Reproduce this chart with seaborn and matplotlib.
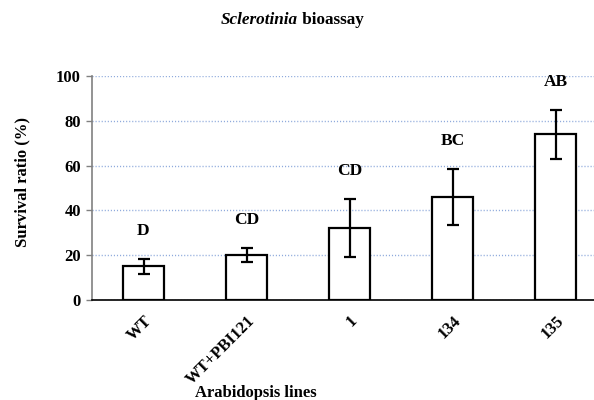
import matplotlib
matplotlib.use("Agg")
import matplotlib.pyplot as plt
import seaborn as sns
import pandas as pd
import numpy as np
from matplotlib.offsetbox import TextArea, HPacker, AnchoredOffsetbox

lines = ["WT", "WT+PBI121", "1", "134", "135"]
survival = [15, 20, 32, 46, 74]
errors = [3.3, 3.0, 13.0, 12.3, 11.0]
letters = ["D", "CD", "CD", "BC", "AB"]
yticks = [0, 20, 40, 60, 80, 100]

sns.set_style("white")
plt.rcParams['font.family'] = ['Liberation Serif', 'DejaVu Serif']
plt.rcParams['text.color'] = 'black'
plt.rcParams['xtick.color'] = 'black'
plt.rcParams['ytick.color'] = 'black'
plt.rcParams['axes.labelcolor'] = 'black'

df = pd.DataFrame({"line": lines, "survival": survival})

W, H = 594, 400
fig = plt.figure(figsize=(W/100, H/100), dpi=100)
ax_left, ax_right = 92, 607
ax_top, ax_bot = 76, 300
ax = fig.add_axes([ax_left/W, 1 - ax_bot/H, (ax_right-ax_left)/W, (ax_bot-ax_top)/H])

sns.barplot(data=df, x="line", y="survival", ax=ax, color="white",
            edgecolor="black", linewidth=1.6, width=0.4, errorbar=None, zorder=3)
ax.errorbar(np.arange(len(lines)), survival, yerr=errors, fmt="none",
            ecolor="black", elinewidth=1.6, capsize=4, capthick=1.6, zorder=4)

for i, (v, e, t) in enumerate(zip(survival, errors, letters)):
    ax.text(i, v + e + 12.5, t, ha="center", va="center", fontsize=12.5,
            fontweight="bold", zorder=5)

ax.set_xlim(-0.5, len(lines) - 0.5)
ax.set_ylim(0, 100)
ax.set_yticks(yticks)
ax.set_yticklabels([str(v) for v in yticks], fontsize=12, fontweight="bold")
ax.yaxis.grid(True, linestyle=(0, (0.8, 1.4)), color="#8FAADC", linewidth=1.0, zorder=0)
ax.xaxis.grid(False)

ax.set_xticks(np.arange(len(lines)))
ax.set_xticklabels(lines, rotation=45, ha="right", rotation_mode="anchor",
                   fontsize=12, fontweight="bold")
ax.tick_params(axis="x", which="major", length=0, pad=9)
ax.set_xticks(np.arange(-0.5, len(lines) + 0.5, 1), minor=True)
ax.tick_params(axis="x", which="minor", length=4, direction="out", color="#808080", width=1)
ax.tick_params(axis="y", which="major", length=4, direction="out", color="#808080",
               width=1, pad=4, left=True)

for s in ["top", "right"]:
    ax.spines[s].set_visible(False)
ax.spines["left"].set_color("#808080")
ax.spines["left"].set_linewidth(1.2)
ax.spines["bottom"].set_color("black")
ax.spines["bottom"].set_linewidth(1.2)
ax.spines["bottom"].set_zorder(6)

ax.set_xlabel("")
ax.set_ylabel("")
fig.text(22/W, 1 - 182/H, "Survival ratio (%)", rotation=90, ha="center", va="center",
         fontsize=12, fontweight="bold")
fig.text(256/W, 1 - 393/H, "Arabidopsis lines", ha="center", va="center",
         fontsize=12, fontweight="bold")

ta1 = TextArea("Sclerotinia", textprops=dict(fontsize=12.3, fontweight="bold",
                                             fontstyle="italic", color="black",
                                             family=['Liberation Serif']))
ta2 = TextArea(" bioassay", textprops=dict(fontsize=12.3, fontweight="bold", color="black",
                                           family=['Liberation Serif']))
box = HPacker(children=[ta1, ta2], align="baseline", pad=0, sep=0)
ab = AnchoredOffsetbox(loc="center", child=box, pad=0, frameon=False,
                       bbox_to_anchor=(292/W, 1 - 20/H), bbox_transform=fig.transFigure,
                       borderpad=0)
fig.add_artist(ab)

fig.savefig("out.png", dpi=100)
